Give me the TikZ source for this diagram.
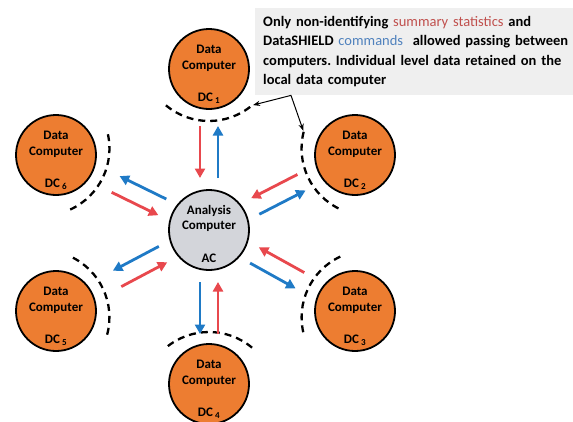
\documentclass[tikz,border=0pt]{standalone}
\usepackage{fontspec}
\setmainfont{Carlito}
\usetikzlibrary{calc,arrows.meta}
\definecolor{dcorange}{HTML}{ED7D31}
\definecolor{acgray}{HTML}{D3D5DA}
\definecolor{statred}{HTML}{E8484D}
\definecolor{cmdblue}{HTML}{1F7AC6}
\definecolor{notegray}{HTML}{EFEFEF}
\definecolor{textred}{HTML}{C0504D}
\definecolor{textblue}{HTML}{4F81BD}
\frenchspacing

\begin{document}
\begin{tikzpicture}[x=1pt,y=1pt,
  dc/.style={circle,draw=black,line width=1.8pt,fill=dcorange,minimum size=80pt,inner sep=0pt},
  ac/.style={dc,fill=acgray,minimum size=80pt},
  lbl/.style={font=\bfseries\fontsize{13}{15.5}\selectfont,align=center,inner sep=0pt},
  stat/.style={draw=statred,line width=2.8pt,-{Triangle[length=9.5pt,width=10pt]}},
  cmd/.style={stat,draw=cmdblue},
  guard/.style={draw=black,line width=2.3pt,dash pattern=on 7pt off 5pt},
  pointer/.style={draw=black,line width=1pt,{Stealth[length=7pt]}-{Stealth[length=7pt]}},
  note/.style={fill=notegray,text width=314pt,inner xsep=8pt,inner ysep=8pt,align=left,
    font=\bfseries\fontsize{14.5}{19.5}\selectfont}]

\useasboundingbox (0,0) rectangle (573,-421);

% analysis computer
\node[ac] (ac) at (209,-230) {};
\node[lbl] (actxt) at ($(ac)+(0,11.5)$) {Analysis\\Computer};
\node[lbl] (acid) at ($(ac)+(0,-28)$) {AC};

% data computers, angle points towards AC
\foreach \i/\cx/\cy/\a in {1/209/-69/-90, 2/355/-155/205.5, 3/355/-311/155.0,
                          4/209/-384/90, 5/56/-311/25.0, 6/56/-155/-25.5}{
  \node[dc] (dc\i) at (\cx,\cy) {};
  \node[lbl] (txt\i) at ($(dc\i)+(0,10.5)$) {Data\\Computer};
  \node[lbl] (id\i) at ($(dc\i)+(0,-29)$) {DC\,\textsubscript{\i}};
  \draw[guard] ($(dc\i)+(\a+180:15)$) ++(\a-40:67) coordinate (s\i)
    arc[start angle=\a-40, end angle=\a+40, radius=67] coordinate (e\i);
  % summary statistics in, commands out
  \draw[stat] ($(ac)!104pt!(dc\i)!9pt!90:(dc\i)$) -- ($(ac)!52pt!(dc\i)!9pt!90:(dc\i)$);
  \draw[cmd] ($(ac)!52pt!(dc\i)!9pt!-90:(dc\i)$) -- ($(ac)!104pt!(dc\i)!9pt!-90:(dc\i)$);
}

% note
\node[note,anchor=north west] (note) at (255,-8) {Only non-identifying \textcolor{textred}{\mdseries summary statistics} and\\
DataSHIELD \textcolor{textblue}{\mdseries commands}\ \ allowed passing between\\
computers. Individual level data retained on the\\
local data computer};
\coordinate (bend) at ($(note.south west)+(36,0)$);
\draw[pointer,shorten <=1pt,shorten >=1pt] (e1) -- (bend) -- (s2);
\end{tikzpicture}
\end{document}
